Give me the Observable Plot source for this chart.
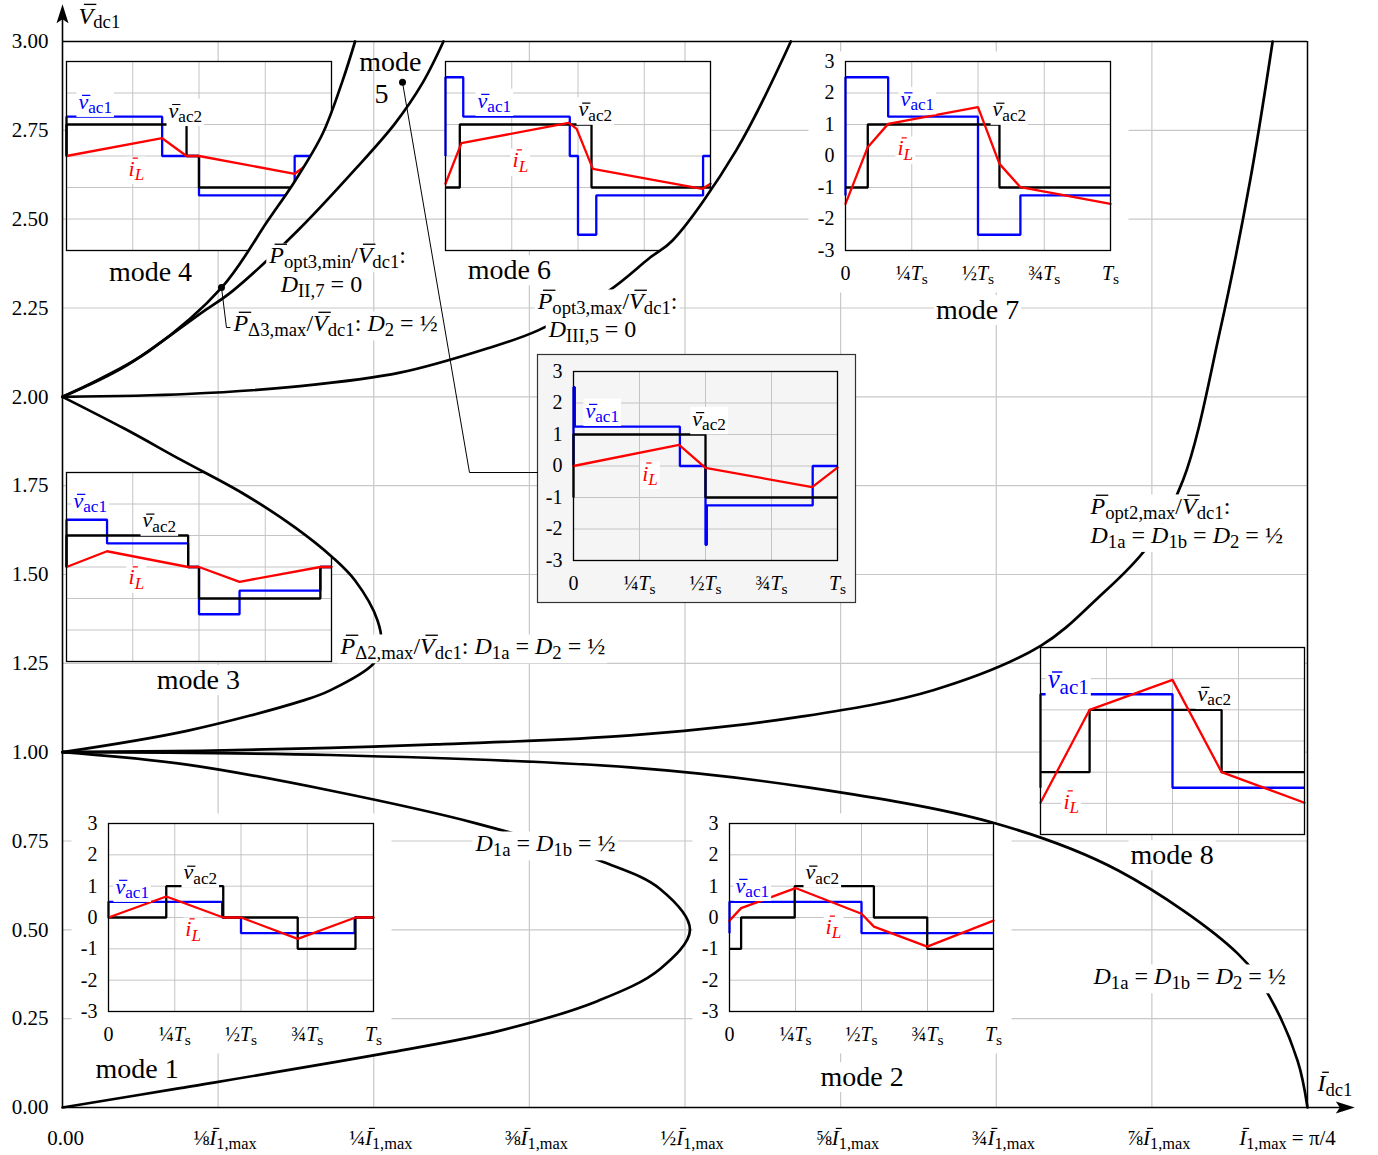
<!DOCTYPE html>
<html>
<head>
<meta charset="utf-8">
<script src="https://cdn.jsdelivr.net/npm/d3@7"></script>
<script src="https://cdn.jsdelivr.net/npm/@observablehq/plot@0.6"></script>
<style>
html,body{margin:0;padding:0;background:#fff;}
#chart{position:relative;width:1378px;height:1155px;overflow:hidden;}
</style>
</head>
<body>
<div id="chart"></div>
<script>
// ---------------- main axes ----------------
const yTicks = [0,0.25,0.5,0.75,1,1.25,1.5,1.75,2,2.25,2.5,2.75,3];
const xTicks = [0,0.125,0.25,0.375,0.5,0.625,0.75,0.875,1];
const xTickLabels = ["0.00","⅛#I_{1,max}","¼#I_{1,max}","⅜#I_{1,max}","½#I_{1,max}","⅝#I_{1,max}","¾#I_{1,max}","⅞#I_{1,max}","#I_{1,max} = π/4"];
const axisTipX = 1.038, axisTipY = 3.105;

// ---------------- boundary curves (x: I_dc1 / I_1,max, y: V_dc1) ----------------
const curveDelta3Max = [[0,2],[0.03,2.05],[0.07,2.13],[0.128,2.308],[0.165,2.496],[0.187,2.609],[0.209,2.741],[0.225,2.89],[0.235,3]];
const curveOpt3Min   = [[0,2],[0.05,2.085],[0.111,2.235],[0.137,2.299],[0.189,2.468],[0.235,2.64],[0.267,2.769],[0.289,2.882],[0.306,3]];
const curveOpt3Max   = [[0,2],[0.1,2.008],[0.191,2.03],[0.271,2.068],[0.341,2.136],[0.382,2.187],[0.439,2.299],[0.472,2.392],[0.49,2.44],[0.541,2.693],[0.585,3]];
const curveOpt2Max   = [[0,1],[0.111,1.004],[0.215,1.012],[0.3,1.022],[0.456,1.047],[0.593,1.10],[0.7,1.175],[0.786,1.30],[0.831,1.432],[0.871,1.576],[0.9,1.765],[0.93,2.19],[0.954,2.61],[0.972,3]];
const curveDelta2Max = [[0,2],[0.05,1.91],[0.096,1.821],[0.145,1.728],[0.187,1.632],[0.217,1.548],[0.235,1.483],[0.253,1.371],[0.256,1.30],[0.25,1.25],[0.215,1.174],[0.193,1.145],[0.1,1.06],[0,1]];
const curveNose      = [[0,1],[0.1,0.965],[0.215,0.892],[0.333,0.799],[0.435,0.69],[0.48,0.615],[0.504,0.5],[0.48,0.39],[0.43,0.30],[0.35,0.215],[0.263,0.155],[0.092,0.053],[0,0]];
const curveHalfAll   = [[0,1],[0.215,0.992],[0.456,0.957],[0.6,0.9],[0.749,0.80],[0.848,0.667],[0.944,0.433],[0.968,0.321],[0.992,0.132],[1,0]];

// leader lines (annotation anchors)
const mode5Leader  = [[0.2731,2.885],[0.3269,1.787],[0.3815,1.787]];
const delta3Leader = [[0.1277,2.308],[0.1317,2.195],[0.1357,2.195]];

// labels
const curveLabelsMid = [
  {x:0.221, y:2.397, t:"#P_{opt3,min}/#V_{dc1}:"},
  {x:0.208, y:2.316, t:"$D_{II,7} = 0"},
  {x:0.4378, y:2.2675, t:"#P_{opt3,max}/#V_{dc1}:"},
  {x:0.4257, y:2.19, t:"$D_{III,5} = 0"}
];
const curveLabelsStart = [
  {x:0.1373, y:2.2055, t:"#P_{Δ3,max}/#V_{dc1}: $D_{2} = ½"},
  {x:0.8257, y:1.6906, t:"#P_{opt2,max}/#V_{dc1}:"},
  {x:0.8257, y:1.61, t:"$D_{1a} = $D_{1b} = $D_{2} = ½"},
  {x:0.2233, y:1.2966, t:"#P_{Δ2,max}/#V_{dc1}: $D_{1a} = $D_{2} = ½"},
  {x:0.3317, y:0.7421, t:"$D_{1a} = $D_{1b} = ½"},
  {x:0.8281, y:0.3678, t:"$D_{1a} = $D_{1b} = $D_{2} = ½"}
];
const modeLabels = [
  {x:0.0707, y:2.350, t:"mode 4"},
  {x:0.359, y:2.356, t:"mode 6"},
  {x:0.735, y:2.244, t:"mode 7"},
  {x:0.1092, y:1.2026, t:"mode 3"},
  {x:0.8913, y:0.710, t:"mode 8"},
  {x:0.06, y:0.1086, t:"mode 1"},
  {x:0.6423, y:0.0853, t:"mode 2"}
];
const mode5Label = [{x:0.2634, y:2.9418, t:"mode"},{x:0.2562, y:2.8528, t:"5"}];
const axisTitles = [{x:0.0129, y:3.072, t:"#V_{dc1}"},{x:1.008, y:0.0667, t:"#I_{dc1}"}];

// ---------------- inset waveforms (x: t/Ts, y: normalized) ----------------
const insetXTicks = [0,0.25,0.5,0.75,1];
const insetXTickLabels = ["0","¼$T_{s}","½$T_{s}","¾$T_{s}","$T_{s}"];
const insetYTicks = [-3,-2,-1,0,1,2,3];

const mode4Vac1 = [[0,1.25],[0.361,0],[0.5,-1.25],[0.861,0]];
const mode4Vac2 = [[0,1],[0.453,0],[0.5,-1],[0.953,0]];
const mode4IL   = [[0,0],[0.361,0.565],[0.453,0],[0.5,0],[0.861,-0.565],[0.953,0],[1,0]];
const mode6Vac1 = [[0,2.5],[0.067,1.25],[0.469,0],[0.5,-2.5],[0.569,-1.25],[0.972,0]];
const mode6Vac2 = [[0,-1],[0.054,1],[0.551,-1]];
const mode6IL   = [[0,-0.88],[0.06,0.41],[0.465,1.05],[0.495,0.86],[0.556,-0.41],[0.969,-1.04],[1,-0.88]];
const mode7Vac1 = [[0,2.5],[0.161,1.25],[0.5,-2.5],[0.66,-1.25]];
const mode7Vac2 = [[0,-1],[0.084,1],[0.581,-1]];
const mode7IL   = [[0,-1.52],[0.084,0.28],[0.161,1.02],[0.5,1.55],[0.581,-0.25],[0.66,-0.99],[1,-1.52]];
const mode5Vac1 = [[0,2.5],[0.005,1.25],[0.403,0],[0.5,-2.5],[0.505,-1.25],[0.906,0]];
const mode5Vac2 = [[0,1],[0.5,-1]];
const mode5IL   = [[0,0],[0.4,0.67],[0.5,-0.06],[0.904,-0.67],[1,-0.05]];
const mode3Vac1 = [[0,1.5],[0.153,0.75],[0.459,0],[0.5,-1.5],[0.653,-0.75],[0.958,0]];
const mode3Vac2 = [[0,1],[0.459,0],[0.5,-1],[0.958,0]];
const mode3IL   = [[0,0],[0.153,0.5],[0.459,0],[0.5,0],[0.653,-0.47],[0.958,0],[1,0]];
const mode8Vac1 = [[0,1.5],[0.5,-1.5]];
const mode8Vac2 = [[0,-1],[0.186,1],[0.686,-1]];
const mode8IL   = [[0,-1.98],[0.186,1],[0.5,1.96],[0.686,-1],[1,-1.98]];
const mode1Vac1 = [[0,0.5],[0.429,0],[0.5,-0.5],[0.929,0]];
const mode1Vac2 = [[0,0],[0.218,1],[0.433,0],[0.714,-1],[0.932,0]];
const mode1IL   = [[0,0],[0.218,0.67],[0.433,0],[0.5,0],[0.714,-0.68],[0.932,0],[1,0]];
const mode2Vac1 = [[0,0.5],[0.5,-0.5]];
const mode2Vac2 = [[0,-1],[0.044,0],[0.247,1],[0.547,0],[0.749,-1]];
const mode2IL   = [[0,-0.1],[0.044,0.3],[0.25,0.94],[0.5,0.12],[0.547,-0.29],[0.749,-0.93],[1,-0.1]];

const insets = [
  {id:"m4", box:[66,61,331,250], vac1:mode4Vac1, vac2:mode4Vac2, iL:mode4IL, lab:{vac1:[0.045,1.73], vac2:[0.385,1.44], iL:[0.234,-0.4]}},
  {id:"m6", box:[445,61,710,250], vac1:mode6Vac1, vac2:mode6Vac2, iL:mode6IL, lab:{vac1:[0.121,1.76], vac2:[0.502,1.48], iL:[0.253,-0.14]}},
  {id:"m7", box:[845,61,1110,250], ticks:true, pad:[37,10,18,42], vac1:mode7Vac1, vac2:mode7Vac2, iL:mode7IL, lab:{vac1:[0.208,1.81], vac2:[0.555,1.48], iL:[0.196,0.24]}},
  {id:"m5", box:[573,371,837,560], ticks:true, pad:[36,17,18,42], bg:"#f5f5f5", border:"#333", vac1:mode5Vac1, vac2:mode5Vac2, iL:mode5IL, lab:{vac1:[0.045,1.76], vac2:[0.45,1.5], iL:[0.26,-0.24]}},
  {id:"m3", box:[66,472,331,661], vac1:mode3Vac1, vac2:mode3Vac2, iL:mode3IL, lab:{vac1:[0.026,2.11], vac2:[0.287,1.48], iL:[0.234,-0.33]}},
  {id:"m8", box:[1040,647,1304,834], vac1:mode8Vac1, vac2:mode8Vac2, iL:mode8IL, lab:{vac1:[0.027,1.97,27], vac2:[0.595,1.52], iL:[0.087,-1.94]}},
  {id:"m1", box:[108,823,373,1011], ticks:true, pad:[37,10,18,42], vac1:mode1Vac1, vac2:mode1Vac2, iL:mode1IL, lab:{vac1:[0.026,0.99], vac2:[0.283,1.44], iL:[0.29,-0.38]}},
  {id:"m2", box:[729,823,993,1011], ticks:true, pad:[37,10,18,42], vac1:mode2Vac1, vac2:mode2Vac2, iL:mode2IL, lab:{vac1:[0.023,1.02], vac2:[0.288,1.44], iL:[0.364,-0.29]}}
];

// ---------------- helpers ----------------
const FONT = "'Liberation Serif', 'DejaVu Serif', serif";
const ns = "http://www.w3.org/2000/svg";
const xy = {x: d => d[0], y: d => d[1]};
const BLUE = "#0000ff", RED = "#ff0000";
const SUB = 0.78, SUBSHIFT = 0.2;
const arrowHead = {draw(ctx) { ctx.moveTo(0, 0); ctx.lineTo(6, 19); ctx.lineTo(0, 15); ctx.lineTo(-6, 19); ctx.closePath(); }};
const withBg = d => "§" + d.t;

function stepPts(steps) {
  const last = steps[steps.length - 1][1];
  return [[0, last], ...steps, [1, last]];
}

function parseRich(s) {
  s = s.replace(/ = /g, "\u2005=\u2005");
  const segs = [];
  let sub = false;
  for (let i = 0; i < s.length;) {
    const c = s[i];
    if ((c === "$" || c === "#") && i + 1 < s.length) { segs.push({t: s[i+1], it: true, ov: c === "#", sub}); i += 2; }
    else if (c === "_" && s[i+1] === "{") { sub = true; i += 2; }
    else if (c === "}" && sub) { sub = false; i += 1; }
    else { segs.push({t: c, it: false, ov: false, sub}); i += 1; }
  }
  const out = [];
  for (const g of segs) {
    const last = out[out.length - 1];
    if (last && !last.ov && !g.ov && last.it === g.it && last.sub === g.sub) last.t += g.t;
    else out.push({...g});
  }
  return out;
}
const overlined = [];
function renderRich(el, str, fs) {
  while (el.firstChild) el.removeChild(el.firstChild);
  let shift = 0, idx = 0;
  for (const seg of parseRich(str)) {
    const ts = document.createElementNS(ns, "tspan");
    const target = seg.sub ? SUBSHIFT * fs : 0;
    if (target !== shift) { ts.setAttribute("dy", (target - shift).toFixed(2)); shift = target; }
    if (seg.sub) ts.setAttribute("font-size", (SUB * fs).toFixed(2));
    if (seg.it) ts.setAttribute("font-style", "italic");
    if (seg.ov) overlined.push({el, idx, ch: seg.t, fs});
    ts.textContent = seg.t;
    el.appendChild(ts);
    idx += seg.t.length;
  }
}
function processRich(root) {
  root.querySelectorAll("text").forEach(t => {
    if (t.querySelector("tspan")) return;
    let s = t.textContent;
    if (s.startsWith("§")) { s = s.slice(1); t.classList.add("bg"); }
    if (/[#$_]/.test(s)) renderRich(t, s, parseFloat(getComputedStyle(t).fontSize));
    else t.textContent = s;
  });
}
function drawBars() {
  for (const {el, idx, ch, fs} of overlined) {
    const a = el.getStartPositionOfChar(idx), b = el.getEndPositionOfChar(idx);
    const lower = ch === ch.toLowerCase() && ch !== "i";
    const h = (lower ? 0.6 : 0.8) * fs;
    const slant = 0.2 * h;
    const w = b.x - a.x;
    const line = document.createElementNS(ns, "line");
    line.setAttribute("x1", a.x + slant + 0.1 * w); line.setAttribute("x2", b.x + slant - 0.05 * w);
    line.setAttribute("y1", a.y - h); line.setAttribute("y2", a.y - h);
    line.setAttribute("stroke", getComputedStyle(el).fill);
    line.setAttribute("stroke-width", Math.max(1, fs * 0.055));
    const tr = el.getAttribute("transform");
    if (tr) line.setAttribute("transform", tr);
    el.parentNode.insertBefore(line, el.nextSibling);
  }
}
function addBg(root) {
  root.querySelectorAll("text.bg").forEach(t => {
    const b = t.getBBox();
    const r = document.createElementNS(ns, "rect");
    r.setAttribute("x", b.x - 2); r.setAttribute("y", b.y + 1);
    r.setAttribute("width", b.width + 4); r.setAttribute("height", b.height - 1);
    r.setAttribute("fill", "white"); r.setAttribute("stroke", "none");
    const tr = t.getAttribute("transform");
    if (tr) r.setAttribute("transform", tr);
    t.parentNode.insertBefore(r, t.parentNode.firstChild);
  });
}

// ---------------- main chart: two layers with the same scales ----------------
const curveList = [curveDelta3Max, curveOpt3Min, curveOpt3Max, curveOpt2Max, curveDelta2Max, curveNose, curveHalfAll];
const xTickRows = xTicks.map((v, i) => ({x: v, t: xTickLabels[i]}));
const frameOpts = {
  width: 1378, height: 1155,
  marginLeft: 62, marginRight: 71, marginTop: 41, marginBottom: 48,
  x: {domain: [0, 1], axis: null},
  y: {domain: [0, 3], axis: null},
  style: {fontFamily: FONT, background: "white"}
};

const main = Plot.plot({...frameOpts, marks: [
  Plot.ruleX(xTicks.slice(1, -1), {stroke: "#c8c8c8", strokeWidth: 1.2}),
  Plot.ruleY(yTicks.slice(1, -1), {stroke: "#c8c8c8", strokeWidth: 1.2}),
  Plot.ruleY([3], {stroke: "black", strokeWidth: 1.5}),
  Plot.ruleX([1], {stroke: "black", strokeWidth: 1.5})
]});

const topLayer = Plot.plot({...frameOpts, marks: [
  ...curveList.map(pts => Plot.line(pts, {...xy, curve: "catmull-rom", stroke: "black", strokeWidth: 2.7})),
  Plot.link([{x1:0,y1:0,x2:0,y2:axisTipY - 0.02},{x1:0,y1:0,x2:axisTipX - 0.01,y2:0}], {x1:"x1", y1:"y1", x2:"x2", y2:"y2", stroke: "black", strokeWidth: 1.6}),
  Plot.dot([{x:0, y:axisTipY, a:0},{x:axisTipX, y:0, a:90}], {x:"x", y:"y", rotate:"a", symbol: arrowHead, r: 8, fill: "black", stroke: "none"}),
  Plot.line(mode5Leader, {...xy, stroke: "black", strokeWidth: 1}),
  Plot.line(delta3Leader, {...xy, stroke: "black", strokeWidth: 1}),
  Plot.dot([mode5Leader[0], delta3Leader[0]], {...xy, r: 3.5, fill: "black", stroke: "none"}),
  Plot.text(yTicks, {x: () => 0, y: d => d, text: d => d.toFixed(2), dx: -14, textAnchor: "end", fontSize: 21, fontFamily: FONT}),
  Plot.text(xTickRows.slice(0, 1), {x: "x", y: () => 0, text: "t", dx: 3, dy: 31, fontSize: 21, fontFamily: FONT}),
  Plot.text(xTickRows.slice(1, -1), {x: "x", y: () => 0, text: "t", dx: 7, dy: 31, fontSize: 21, fontFamily: FONT}),
  Plot.text(xTickRows.slice(-1), {x: "x", y: () => 0, text: "t", dx: -20, dy: 31, fontSize: 21, fontFamily: FONT}),
  Plot.text(axisTitles, {x: "x", y: "y", text: "t", textAnchor: "start", fontSize: 24, fontFamily: FONT}),
  Plot.text(curveLabelsMid, {x: "x", y: "y", text: withBg, fontSize: 24, fontFamily: FONT}),
  Plot.text(curveLabelsStart, {x: "x", y: "y", text: withBg, textAnchor: "start", fontSize: 24, fontFamily: FONT}),
  Plot.text(modeLabels, {x: "x", y: "y", text: withBg, fontSize: 28, fontFamily: FONT}),
  Plot.text(mode5Label, {x: "x", y: "y", text: "t", fontSize: 28, fontFamily: FONT})
]});

document.getElementById("chart").appendChild(main);

const sx = main.scale("x"), sy = main.scale("y");
const P = pts => pts.map(([a, b]) => [sx.apply(a), sy.apply(b)]);
const cr = d3.line().curve(d3.curveCatmullRom);
function regionPath(parts) {
  let d = "";
  for (const [kind, pts] of parts) {
    const seg = kind === "curve" ? cr(P(pts)) : P(pts).map(p => "L" + p.join(",")).join("");
    d += d === "" ? seg : (kind === "curve" ? "L" + seg.slice(1) : seg);
  }
  return d + "Z";
}
const rev = a => a.slice().reverse();
const clipRegions = {
  m4: regionPath([["curve", curveDelta3Max], ["poly", [[curveDelta3Max.at(-1)[0], 3.3], [-0.2, 3.3], [-0.2, 2]]]]),
  m6: regionPath([["curve", curveOpt3Min], ["poly", [[curveOpt3Min.at(-1)[0], 3.3], [curveOpt3Max.at(-1)[0], 3.3]]], ["curve", rev(curveOpt3Max)]]),
  m3: regionPath([["curve", curveDelta2Max], ["poly", [[-0.2, 1], [-0.2, 2]]]]),
  m8: regionPath([["curve", curveOpt2Max], ["poly", [[curveOpt2Max.at(-1)[0], 3.3], [1.3, 3.3], [1.3, -0.3], [1, -0.3]]], ["curve", rev(curveHalfAll)]]),
  m2: regionPath([["curve", curveHalfAll], ["poly", [[1, -0.3], [-0.2, -0.3], [-0.2, 1]]]])
};

const defs = document.createElementNS(ns, "defs");
main.insertBefore(defs, main.firstChild);

for (const m of insets) {
  const [x0, y0, x1, y1] = m.box;
  const mL = 50, mT = 25, mR = 30, mB = 55;
  const bg = m.bg || "white";
  const marks = [];
  if (m.pad) marks.push(Plot.frame({fill: bg, stroke: m.border || "none", strokeWidth: 1.2, insetLeft: -m.pad[0], insetTop: -m.pad[1], insetRight: -m.pad[2], insetBottom: -m.pad[3]}));
  marks.push(Plot.frame({fill: bg, stroke: "none"}));
  marks.push(Plot.ruleX([0.25, 0.5, 0.75], {stroke: "#c4c4c4", strokeWidth: 1}));
  marks.push(Plot.ruleY([-2, -1, 0, 1, 2], {stroke: "#c4c4c4", strokeWidth: 1}));
  marks.push(Plot.line(stepPts(m.vac1), {...xy, curve: "step-after", stroke: BLUE, strokeWidth: 2.3, strokeLinejoin: "miter", strokeLinecap: "butt"}));
  marks.push(Plot.line(stepPts(m.vac2), {...xy, curve: "step-after", stroke: "black", strokeWidth: 2.3, strokeLinejoin: "miter", strokeLinecap: "butt"}));
  marks.push(Plot.line(m.iL, {...xy, stroke: RED, strokeWidth: 2.3, strokeLinejoin: "miter"}));
  marks.push(Plot.frame({stroke: "black", strokeWidth: 1.3, fill: "none"}));
  marks.push(Plot.text([m.lab.vac1], {...xy, text: () => "§#v_{ac1}", fill: BLUE, textAnchor: "start", fontSize: m.lab.vac1[2] || 22, fontFamily: FONT}));
  marks.push(Plot.text([m.lab.vac2], {...xy, text: () => "§#v_{ac2}", fill: "black", textAnchor: "start", fontSize: 22, fontFamily: FONT}));
  marks.push(Plot.text([m.lab.iL], {...xy, text: () => "§#i_{$L}", fill: RED, textAnchor: "start", fontSize: 22, fontFamily: FONT}));
  if (m.ticks) {
    marks.push(Plot.text(insetYTicks, {x: () => 0, y: d => d, text: d => String(d), dx: -11, textAnchor: "end", fontSize: 20, fontFamily: FONT}));
    marks.push(Plot.text(insetXTicks.map((v, i) => ({x: v, t: insetXTickLabels[i]})), {x: "x", y: () => -3, text: "t", dy: 23, fontSize: 20, fontFamily: FONT}));
  }
  const p = Plot.plot({
    width: x1 - x0 + mL + mR, height: y1 - y0 + mT + mB,
    marginLeft: mL, marginTop: mT, marginRight: mR, marginBottom: mB,
    x: {domain: [0, 1], axis: null}, y: {domain: [-3, 3], axis: null},
    marks
  });
  const g = document.createElementNS(ns, "g");
  for (const a of ["fill", "font-size", "text-anchor"]) if (p.hasAttribute(a)) g.setAttribute(a, p.getAttribute(a));
  g.setAttribute("font-family", FONT);
  g.setAttribute("transform", `translate(${x0 - mL},${y0 - mT})`);
  for (const ch of Array.from(p.childNodes)) if (ch.nodeName.toLowerCase() !== "style") g.appendChild(ch);
  const wrap = document.createElementNS(ns, "g");
  if (clipRegions[m.id]) {
    const cp = document.createElementNS(ns, "clipPath");
    cp.setAttribute("id", "clip-" + m.id);
    const path = document.createElementNS(ns, "path");
    path.setAttribute("d", clipRegions[m.id]);
    cp.appendChild(path);
    defs.appendChild(cp);
    wrap.setAttribute("clip-path", `url(#clip-${m.id})`);
  }
  wrap.appendChild(g);
  main.appendChild(wrap);
}

// top layer (curves, axes, labels) goes above the insets
const topGroup = document.createElementNS(ns, "g");
for (const a of ["fill", "font-size", "text-anchor"]) if (topLayer.hasAttribute(a)) topGroup.setAttribute(a, topLayer.getAttribute(a));
topGroup.setAttribute("font-family", FONT);
for (const ch of Array.from(topLayer.childNodes)) if (ch.nodeName.toLowerCase() !== "style") topGroup.appendChild(ch);
main.appendChild(topGroup);

processRich(main);
drawBars();
addBg(main);
</script>
</body>
</html>
